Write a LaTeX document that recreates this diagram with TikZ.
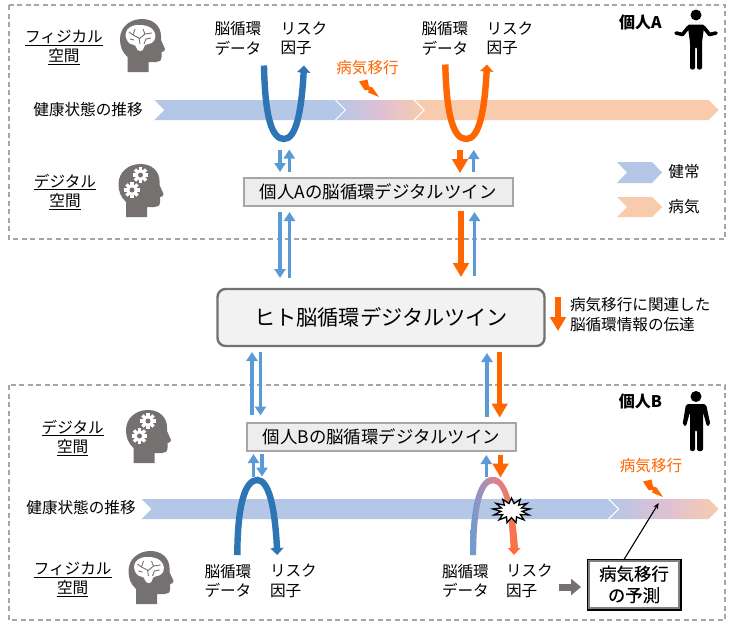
\documentclass[tikz,border=0pt]{standalone}
\usepackage{fontspec}
\usepackage{xcolor}
\usepackage{tikz}
\usetikzlibrary{arrows.meta, positioning, shapes.geometric}
\setmainfont{Noto Sans CJK JP}
\newfontfamily\predictfont[FakeBold=0.25]{Noto Sans CJK JP}
\definecolor{healthBlue}{RGB}{180,199,231}
\definecolor{illOrange}{RGB}{248,203,173}
\definecolor{shiftPink}{RGB}{222,192,212}
\definecolor{strongBlue}{RGB}{46,117,182}
\definecolor{lightBlue}{RGB}{91,155,213}
\definecolor{alertOrange}{RGB}{255,102,0}
\definecolor{loopBlue}{RGB}{108,156,214}
\definecolor{loopPink}{RGB}{216,132,150}
\definecolor{loopOrange}{RGB}{255,112,56}
\definecolor{headGray}{RGB}{118,113,113}
\definecolor{dashGray}{RGB}{166,166,166}
\definecolor{boxGray}{RGB}{237,237,237}
\newcommand{\chevron}[5]{% x start, x shoulder, y top, y bottom, fill options
  \path[#5] (#1,#3) -- (#2,#3) -- ({#2+10},{(#3+#4)/2}) -- (#2,#4) -- (#1,#4)
    -- ({#1+10},{(#3+#4)/2}) -- cycle;}

\begin{document}
\begin{tikzpicture}[x=1pt, y=-1pt,
  every node/.style={inner sep=0pt, outer sep=0pt},
  lbl/.style={font=\fontsize{15.6}{19.4}\selectfont, align=center},
  lblleft/.style={font=\fontsize{15.6}{19.4}\selectfont, align=left, anchor=west},
  alert/.style={lbl, text=alertOrange},
  person/.style={font=\fontsize{16}{19}\selectfont\bfseries},
  twinbox/.style={rectangle, draw=dashGray, line width=1.6pt, fill=boxGray,
              minimum width=269pt, minimum height=28pt, font=\fontsize{17.4}{20}\selectfont},
  panel/.style={draw=dashGray, line width=1.3pt, dash pattern=on 5pt off 3.5pt},
  curveblue/.style={-{Triangle[width=13pt,length=7pt]}, line width=6.4pt, strongBlue},
  curveorange/.style={-{Triangle[width=13pt,length=7pt]}, line width=6.4pt, alertOrange},
  bluearrow/.style={-{Triangle[width=11pt,length=9pt]}, line width=3.4pt, lightBlue},
  orangearrow/.style={-{Triangle[width=15.5pt,length=14pt]}, line width=5.4pt, alertOrange},
  gearicon/.pic={
    \fill[white] (0,0) circle (5.6);
    \foreach \a in {0,45,...,315}{\fill[white, rotate=\a] (-1.7,-7.8) rectangle (1.7,0);}
    \fill[headGray] (0,0) circle (2.5);
  },
  headshape/.pic={
    \fill[headGray] (7.5,53) -- (7.5,38) .. controls (2,33) and (0,27) .. (0,20)
      .. controls (0,8) and (10,0) .. (22,0) .. controls (34,0) and (41,8) .. (41,17)
      -- (41,21) -- (45,30) .. controls (45.5,32) and (43,33) .. (41.5,33) -- (41.5,38)
      .. controls (41.5,42) and (39,43) .. (36,43) -- (28.5,43) -- (28.5,53) -- cycle;
  },
  brainhead/.pic={
    \pic at (0,0) {headshape};
    \fill[white, rounded corners=3pt] (5,17) -- (7,10) -- (14,6) -- (24,6) -- (32,9)
      -- (36,16) -- (34,23) -- (28,25.5) -- (24,25.5) -- (23.5,32) -- (17,32) -- (16,26)
      -- (9,25) -- cycle;
    \draw[headGray, line width=.9pt] (20,25) -- (19,19) -- (13,16) -- (9,13);
    \draw[headGray, line width=.9pt] (19,20) -- (25,15) -- (32,14);
    \draw[headGray, line width=.9pt] (25,15) -- (23,10);
    \draw[headGray, line width=.9pt] (13,16) -- (15,10);
    \draw[headGray, line width=.9pt] (14,21) -- (10,20);
    \draw[headGray, line width=.9pt] (24,25) -- (26,20) -- (31,19);
  },
  gearhead/.pic={
    \pic at (0,0) {headshape};
    \pic at (22,11) {gearicon};
    \pic at (13.5,26) {gearicon};
  },
  boltmark/.pic={
    \fill[alertOrange] (0,2) -- (8.5,0) -- (10,7) -- (13.5,8) -- (20,17.5) -- (9,13)
      -- (10,10.5) -- (5.5,10.5) -- cycle;
  }
]
\useasboundingbox (0,0) rectangle (734,629);
\fill[white] (0,0) rectangle (734,629);

% Dashed panels for each person
\draw[panel] (9,5) rectangle (725,239);
\draw[panel] (9,385) rectangle (725,620);

% Health bands
\chevron{154.3}{334.5}{100}{120}{fill=healthBlue}
\chevron{336.3}{413}{100}{120}{left color=healthBlue, right color=illOrange, middle color=shiftPink}
\chevron{415}{708.7}{100}{120}{fill=illOrange}
\chevron{141.7}{607.7}{499}{519}{fill=healthBlue}
\chevron{609.5}{708.7}{499}{519}{left color=healthBlue, right color=illOrange, middle color=shiftPink}
% Legend
\chevron{617}{652}{162}{183}{fill=healthBlue}
\chevron{617}{652}{197}{217}{fill=illOrange}
\node[lbl] (legendWell) at (684,172) {健常};
\node[lbl] (legendIll) at (684,207) {病気};

% Heads
\pic at (120,19) {brainhead};
\pic at (118.5,164) {gearhead};
\pic at (126,410) {gearhead};
\pic at (128.5,551) {brainhead};

% Side labels
\node[lbl] (physA) at (64,47.5) {\underline{フィジカル}\\\underline{空間}};
\node[lbl] (digiA) at (65,192) {\underline{デジタル}\\\underline{空間}};
\node[lbl] (digiB) at (72.7,438) {\underline{デジタル}\\\underline{空間}};
\node[lbl] (physB) at (72.7,579.6) {\underline{フィジカル}\\\underline{空間}};
\node[lbl] (bandA) at (88,110) {健康状態の推移};
\node[lbl] (bandB) at (81,508) {健康状態の推移};

% Person A
\node[person] (nameA) at (640.5,22.5) {個人A};
\fill (696,15) circle (5.5);
\fill[rounded corners=2pt] (687.5,24.5) -- (704.5,24.5) -- (702,42) -- (702,69.5) -- (697,69.5)
  -- (697,47) -- (695,47) -- (695,69.5) -- (690,69.5) -- (690,42) -- cycle;
\draw[line width=3.6pt, line cap=round, line join=round] (688.5,27) -- (682.5,34.5) -- (676,33);
\draw[line width=3.6pt, line cap=round, line join=round] (703.5,27) -- (709.5,34.5) -- (716,33);

% Person B
\node[person] (nameB) at (640.5,401.5) {個人B};
\fill (696,396.5) circle (5.5);
\fill[rounded corners=2pt] (686,404) -- (706,404) -- (710.5,425) -- (707,426.5) -- (703,412)
  -- (703,451) -- (697,451) -- (697,430) -- (695,430) -- (695,451) -- (690,451) -- (690,412)
  -- (686,426.5) -- (682.5,425) -- cycle;

% Twin boxes
\node[twinbox] (twinA) at (378.2,192.2) {個人Aの脳循環デジタルツイン};
\node[twinbox] (twinB) at (381.5,437) {個人Bの脳循環デジタルツイン};
\node[rectangle, rounded corners=8pt, draw=headGray, line width=2.4pt, fill=boxGray!70,
  minimum width=327pt, minimum height=57pt, font=\fontsize{21.2}{25}\selectfont]
  (human) at (381,317.5) {ヒト脳循環デジタルツイン};

% Data labels
\node[lblleft] (dataA1) at (214.5,38.5) {脳循環\\データ};
\node[lblleft] (riskA1) at (280.5,38.5) {リスク\\因子};
\node[lblleft] (dataA2) at (421.5,38.5) {脳循環\\データ};
\node[lblleft] (riskA2) at (486.5,38.5) {リスク\\因子};
\node[lblleft] (dataB1) at (204.5,581) {脳循環\\データ};
\node[lblleft] (riskB1) at (270,581) {リスク\\因子};
\node[lblleft] (dataB2) at (442,581) {脳循環\\データ};
\node[lblleft] (riskB2) at (506,581) {リスク\\因子};
\node[alert] (shiftA) at (367.5,68) {病気移行};
\node[alert] (shiftB) at (651,466) {病気移行};
\pic at (359,79.5) {boltmark};
\pic at (643,479.5) {boltmark};
\node[lblleft] (noteText) at (570,314.5) {病気移行に関連した\\脳循環情報の伝達};

% Measured and returned loops
\coordinate (uaStart) at (264,65.5);
\coordinate (uaEnd) at (304,65.5);
\coordinate (ubStart) at (445.3,64.5);
\coordinate (ubEnd) at (487,64.5);
\coordinate (naStart) at (237.3,555);
\coordinate (naEnd) at (277.3,555);
\draw[curveblue] (uaStart) .. controls (265,118) and (272,139) .. (284,139)
  .. controls (296,139) and (301.5,112) .. (uaEnd);
\draw[curveorange] (ubStart) .. controls (446.5,118) and (454,139) .. (466.3,139)
  .. controls (479,139) and (484.5,112) .. (ubEnd);
\draw[curveblue] (naStart) .. controls (237.5,505) and (245,480) .. (257.3,480)
  .. controls (269,480) and (275,508) .. (naEnd);
\shade[left color=loopBlue, right color=loopOrange, middle color=loopPink]
  (470,555) .. controls (470,503) and (478,476.8) .. (493,476.8)
  .. controls (508,476.8) and (515,508) .. (518,548) -- (510.5,548)
  .. controls (509,512) and (504,483.2) .. (493,483.2)
  .. controls (483,483.2) and (476.2,507) .. (476.2,555) -- cycle;
\fill[loopOrange] (507.7,548) -- (520.5,548) -- (514,555) -- cycle;
\node[star, star points=13, star point ratio=1.75, draw=black, fill=white, line width=1.3pt,
  minimum size=25pt, xscale=1.5] (burst) at (511.5,510.5) {};

% Exchange arrows, panels and the shared twin
\foreach \name/\x/\y in {a1/280/150, a2/280/172, a3/289.3/172, a4/289.3/149.5,
    a5/460/150, a6/460/173, a7/473.7/172, a8/473.7/150,
    b1/280/212, b2/280/278, b3/289.5/277.5, b4/289.5/212,
    b5/461/211, b6/461/277, b7/474.5/276, b8/474.5/212,
    c1/252/414.5, c2/252/352, c3/260.5/352, c4/260.5/415.5,
    c5/487/417, c6/487/353, c7/499.7/352, c8/499.7/417.5,
    d1/253.5/476.5, d2/253.5/454, d3/262/454, d4/262/476.5,
    d5/486.3/477, d6/486.3/455, d7/500.5/455, d8/500.5/477.5,
    n1/558/297, n2/558/331}
  {\coordinate (\name) at (\x,\y);}
\draw[bluearrow] (a1) -- (a2);
\draw[bluearrow] (a3) -- (a4);
\draw[orangearrow] (a5) -- (a6);
\draw[bluearrow] (a7) -- (a8);
\draw[bluearrow] (b1) -- (b2);
\draw[bluearrow] (b3) -- (b4);
\draw[orangearrow] (b5) -- (b6);
\draw[bluearrow] (b7) -- (b8);
\draw[bluearrow] (c1) -- (c2);
\draw[bluearrow] (c3) -- (c4);
\draw[bluearrow] (c5) -- (c6);
\draw[orangearrow] (c7) -- (c8);
\draw[bluearrow] (d1) -- (d2);
\draw[bluearrow] (d3) -- (d4);
\draw[bluearrow] (d5) -- (d6);
\draw[orangearrow] (d7) -- (d8);
\draw[orangearrow] (n1) -- (n2);

% Prediction
\node[rectangle, draw=black, line width=2pt, fill=white,
  minimum width=93pt, minimum height=50pt, align=center,
  font=\fontsize{17.4}{21.5}\predictfont] (predict) at (634,584.5) {病気移行\\の予測};
\draw[gray, line width=1.1pt] ([shift={(1.5pt,1.5pt)}]predict.south west) rectangle ([shift={(-1.5pt,-1.5pt)}]predict.north east);
\coordinate (grayStart) at (558.7,587);
\coordinate (grayEnd) at (581,587);
\coordinate (bandHit) at (658.7,503);
\draw[-{Triangle[width=16pt,length=10pt]}, line width=7pt, headGray] (grayStart) -- (grayEnd);
\draw[-{Stealth[length=6pt,width=5pt]}, line width=1.1pt] ([xshift=-10pt]predict.north) -- (bandHit);

\end{tikzpicture}
\end{document}
